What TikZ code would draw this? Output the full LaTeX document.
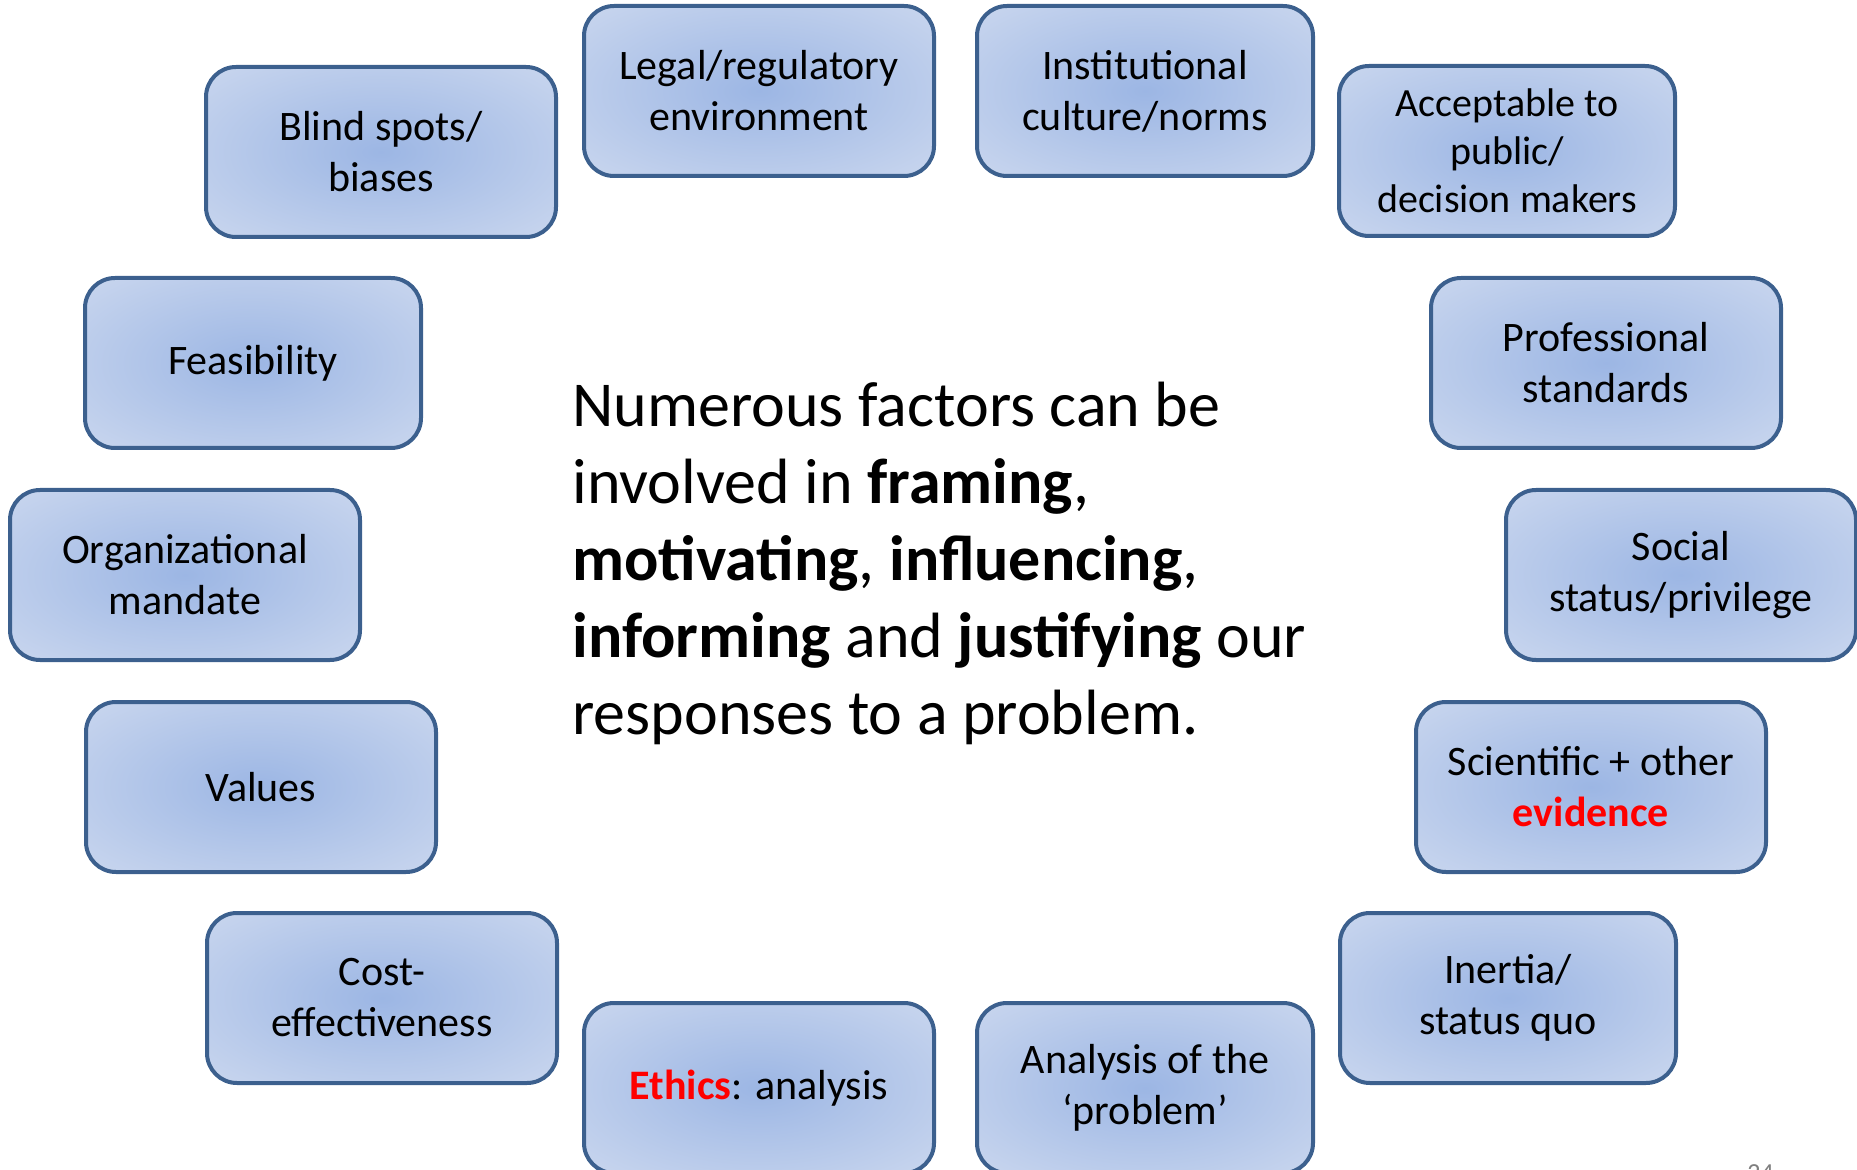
\documentclass[tikz,border=0pt]{standalone}
\usepackage{fontspec}
\setmainfont{Carlito}
\definecolor{boxline}{RGB}{60,96,142}
\definecolor{boxin}{RGB}{156,182,228}
\definecolor{boxout}{RGB}{222,229,243}
\pgfdeclareradialshading{factorshade}{\pgfpoint{0bp}{0bp}}%
  {color(0bp)=(boxin); color(52bp)=(boxout); color(100bp)=(boxout)}
\newcommand{\hot}[1]{\textcolor{red}{\textbf{#1}}}
\begin{document}
\begin{tikzpicture}[x=0.5pt,y=-0.5pt]
		\tikzset{factor/.style = {draw=boxline, line width=2pt, rounded corners=15pt,
				shading=factorshade, align=center,
				minimum height=85pt, font=\fontsize{21}{25.5}\selectfont}}
		\tikzset{wide/.style = {factor, minimum width=175pt}}
		\tikzset{narrow/.style = {factor, minimum width=168pt}}
		
		\useasboundingbox (0,0) rectangle (1857,1170);
		
		\node[wide]    (blind)  at ( 381,  152) {Blind spots/\\biases};
		\node[wide]    (legal)  at ( 759,   91) {Legal/regulatory\\environment};
		\node[narrow]  (inst)   at (1145,   91) {Institutional\\culture/norms};
		\node[narrow, font=\fontsize{20}{24}\selectfont]
		               (accept) at (1507,  151) {Acceptable to\\public/\\decision makers};
		\node[narrow]  (feas)   at ( 253,  363) {Feasibility};
		\node[wide]    (prof)   at (1606,  363) {Professional\\standards};
		\node[wide]    (org)    at ( 185,  575) {Organizational\\mandate};
		\node[wide]    (social) at (1681,  575) {Social\\status/privilege};
		\node[wide]    (values) at ( 261,  787) {Values};
		\node[wide]    (sci)    at (1591,  787) {Scientific + other\\\hot{evidence}};
		\node[wide]    (cost)   at ( 382,  998) {Cost-\\effectiveness};
		\node[narrow]  (inert)  at (1508,  998) {Inertia/\\status quo};
		\node[wide]    (ethics) at ( 759, 1088) {\hot{Ethics}: analysis};
		\node[narrow]  (prob)   at (1145, 1088) {Analysis of the\\`problem'};
		
		\node[anchor=north west, inner sep=0pt, align=left,
		      font=\fontsize{32}{38.5}\selectfont] (claim) at (572, 382)
		      {Numerous factors can be\\
		       involved in \textbf{framing},\\
		       \textbf{motivating}, \textbf{influencing},\\
		       \textbf{informing} and \textbf{justifying} our\\
		       responses to a problem.};
		
		\node[anchor=north west, inner sep=0pt, text=gray,
		      font=\fontsize{13}{13}\selectfont] (page) at (1747, 1164) {24};
		\end{tikzpicture}
\end{document}
